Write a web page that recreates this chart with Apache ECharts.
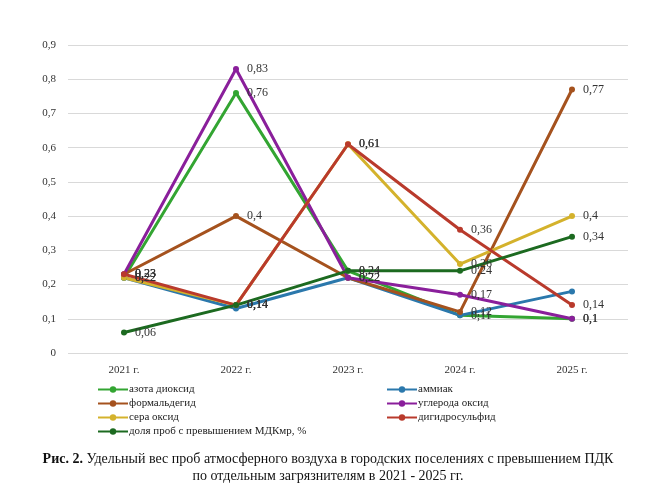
<!DOCTYPE html>
<html>
<head>
<meta charset="utf-8">
<script src="https://cdn.jsdelivr.net/npm/echarts@6/dist/echarts.min.js"></script>
<style>
  html, body {margin: 0; padding: 0; background: #fff;}
  #chart {width: 656px; height: 493px;}
</style>
</head>
<body>
<div id="chart"></div>
<script>
// годы
var years = ['2021 г.', '2022 г.', '2023 г.', '2024 г.', '2025 г.'];
var yTicks = [0, 0.1, 0.2, 0.3, 0.4, 0.5, 0.6, 0.7, 0.8, 0.9];

// значения по загрязнителям
var azota = [0.22, 0.76, 0.24, 0.11, 0.10];
var ammiak = [0.22, 0.13, 0.22, 0.11, 0.18];
var formald = [0.23, 0.40, 0.22, 0.12, 0.77];
var uglerod = [0.23, 0.83, 0.22, 0.17, 0.10];
var sera = [0.22, 0.14, 0.61, 0.26, 0.40];
var digidro = [0.23, 0.14, 0.61, 0.36, 0.14];
var dolya = [0.06, 0.14, 0.24, 0.24, 0.34];

var names = ['азота диоксид', 'аммиак', 'формальдегид', 'углерода оксид',
    'сера оксид', 'дигидросульфид', 'доля проб с превышением МДКмр, %'];

var font = '"Liberation Serif", "DejaVu Serif", serif';

function fmt(v) {
    return String(v).replace('.', ',');
}

function makeSeries(name, data, color, showLabel) {
    return {
        name: name,
        type: 'line',
        data: data,
        symbol: 'circle',
        symbolSize: 6,
        lineStyle: {width: 3, color: color},
        itemStyle: {color: color},
        label: {
            show: showLabel,
            position: 'right',
            distance: 8,
            fontFamily: font,
            fontSize: 12,
            color: '#333',
            formatter: function (p) { return fmt(p.value); }
        },
        emphasis: {disabled: true}
    };
}

var chart = echarts.init(document.getElementById('chart'));

var option = {
    animation: false,
    backgroundColor: '#fff',
    title: {
        left: 'center',
        top: 446,
        text: '{b|Рис. 2.} Удельный вес проб атмосферного воздуха в городских поселениях с превышением ПДК\nпо отдельным загрязнителям в 2021 - 2025 гг.',
        textStyle: {
            fontFamily: font,
            fontSize: 14,
            fontWeight: 'normal',
            color: '#111',
            lineHeight: 17,
            align: 'center',
            rich: {
                b: {fontFamily: font, fontSize: 14, fontWeight: 'bold', color: '#111', lineHeight: 17}
            }
        }
    },
    legend: [
        {
            left: 92, top: 379,
            orient: 'vertical',
            itemGap: 3,
            itemWidth: 30, itemHeight: 8,
            textStyle: {fontFamily: font, fontSize: 11, color: '#222', padding: [0, 0, 0, -4]},
            data: [names[0], names[2], names[4], names[6]]
        },
        {
            left: 381, top: 379,
            orient: 'vertical',
            itemGap: 3,
            itemWidth: 30, itemHeight: 8,
            textStyle: {fontFamily: font, fontSize: 11, color: '#222', padding: [0, 0, 0, -4]},
            data: [names[1], names[3], names[5]]
        }
    ],
    grid: {left: 68, right: 28, top: 45, bottom: 140, containLabel: false},
    xAxis: {
        type: 'category',
        data: years,
        boundaryGap: true,
        axisLine: {show: false},
        axisTick: {show: false},
        axisLabel: {fontFamily: font, fontSize: 11, color: '#333', margin: 12}
    },
    yAxis: {
        type: 'value',
        min: yTicks[0],
        max: yTicks[yTicks.length - 1],
        interval: 0.1,
        axisLine: {show: false},
        axisTick: {show: false},
        splitLine: {lineStyle: {color: '#d9d9d9', width: 1}},
        axisLabel: {
            fontFamily: font, fontSize: 11, color: '#333', margin: 12,
            formatter: function (v) { return fmt(Math.round(v * 10) / 10); }
        }
    },
    series: [
        makeSeries(names[0], azota, '#33a532', true),
        makeSeries(names[1], ammiak, '#2b78ac', false),
        makeSeries(names[2], formald, '#a5521e', true),
        makeSeries(names[3], uglerod, '#8a1f9b', true),
        makeSeries(names[4], sera, '#d4b22c', true),
        makeSeries(names[5], digidro, '#b93a2c', true),
        makeSeries(names[6], dolya, '#1c6a20', true)
    ]
};

chart.setOption(option);
</script>
</body>
</html>
